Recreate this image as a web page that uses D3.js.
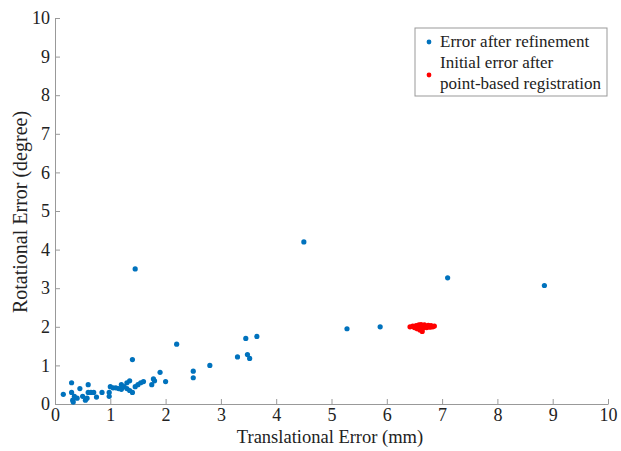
<!DOCTYPE html>
<html>
<head>
<meta charset="utf-8">
<script src="https://cdn.jsdelivr.net/npm/d3@7"></script>
<style>
  body { margin: 0; background: #fff; }
</style>
</head>
<body>
<div id="chart"></div>
<script>
// Error after refinement (translational mm, rotational degree)
var refinedX = [0.15, 0.3, 0.3, 0.32, 0.33, 0.35, 0.45, 0.4, 0.5, 0.55, 0.6, 0.6, 0.65, 0.58, 0.7, 0.75, 0.85,
  0.98, 0.98, 1.0, 1.05, 1.1, 1.15, 1.2, 1.2, 1.25, 1.3, 1.3, 1.35, 1.35, 1.4, 1.4, 1.45, 1.5, 1.55, 1.6,
  1.75, 1.78, 1.8, 1.9, 2.0, 1.45, 2.2, 2.5, 2.5, 2.8, 3.3, 3.45, 3.48, 3.52, 3.65, 4.5, 5.28, 5.88, 7.1, 8.85];
var refinedY = [0.25, 0.55, 0.3, 0.1, 0.05, 0.2, 0.4, 0.15, 0.2, 0.1, 0.3, 0.5, 0.3, 0.15, 0.3, 0.18, 0.3,
  0.2, 0.3, 0.45, 0.42, 0.42, 0.4, 0.38, 0.5, 0.45, 0.55, 0.4, 0.6, 0.35, 0.3, 1.15, 0.45, 0.5, 0.55, 0.58,
  0.5, 0.65, 0.6, 0.82, 0.58, 3.5, 1.55, 0.85, 0.68, 1.0, 1.22, 1.7, 1.28, 1.18, 1.75, 4.2, 1.95, 2.0, 3.27, 3.07];

// Initial error after point-based registration
var initialX = [6.42, 6.47, 6.5, 6.53, 6.55, 6.58, 6.6, 6.6, 6.62, 6.64, 6.65, 6.66, 6.68, 6.7, 6.72, 6.75, 6.78, 6.8, 6.83, 6.86];
var initialY = [2.0, 2.02, 1.98, 2.03, 1.95, 2.05, 2.0, 1.92, 2.06, 1.88, 2.0, 1.97, 2.05, 2.02, 1.98, 2.04, 1.99, 2.03, 2.0, 2.02];

var xTicks = [0, 1, 2, 3, 4, 5, 6, 7, 8, 9, 10];
var yTicks = [0, 1, 2, 3, 4, 5, 6, 7, 8, 9, 10];
var legendLabels = ["Error after refinement", "Initial error after", "point-based registration"];

var serif = "'Liberation Serif', 'Times New Roman', serif";
var width = 621, height = 451;
var margin = { left: 55, right: 13, top: 18, bottom: 47 };

var svg = d3.select("#chart").append("svg")
  .attr("width", width)
  .attr("height", height)
  .attr("font-family", serif);

var x = d3.scaleLinear().domain([0, 10]).range([margin.left, width - margin.right]);
var y = d3.scaleLinear().domain([0, 10]).range([height - margin.bottom, margin.top]);

// axes (ticks pointing inward)
var xAxis = svg.append("g")
  .attr("transform", "translate(0," + (height - margin.bottom) + ")")
  .call(d3.axisBottom(x).tickValues(xTicks).tickSizeInner(-5).tickSizeOuter(0).tickPadding(4));
var yAxis = svg.append("g")
  .attr("transform", "translate(" + margin.left + ",0)")
  .call(d3.axisLeft(y).tickValues(yTicks).tickSizeInner(-5).tickSizeOuter(0).tickPadding(5));

[xAxis, yAxis].forEach(function(ax) {
  ax.attr("font-family", serif).attr("font-size", 18);
  ax.selectAll("path, line").attr("stroke", "#999");
  ax.selectAll("text").attr("fill", "#222");
});

// points
svg.append("g").selectAll("circle")
  .data(refinedX)
  .enter()
  .append("circle")
  .attr("cx", function(d) { return x(d); })
  .attr("cy", function(d, i) { return y(refinedY[i]); })
  .attr("r", 2.6)
  .attr("fill", "#0072BD");

svg.append("g").selectAll("circle")
  .data(initialX)
  .enter()
  .append("circle")
  .attr("cx", function(d) { return x(d); })
  .attr("cy", function(d, i) { return y(initialY[i]); })
  .attr("r", 2.6)
  .attr("fill", "#FF0000");

// axis titles
svg.append("text")
  .attr("x", 330)
  .attr("y", 443)
  .attr("text-anchor", "middle")
  .attr("font-size", 18.5)
  .attr("fill", "#222")
  .text("Translational Error (mm)");

svg.append("text")
  .attr("transform", "translate(27,212) rotate(-90)")
  .attr("text-anchor", "middle")
  .attr("font-size", 20)
  .attr("fill", "#222")
  .text("Rotational Error (degree)");

// legend
var legend = svg.append("g").attr("transform", "translate(415,28)");
legend.append("rect")
  .attr("width", 192)
  .attr("height", 68)
  .attr("fill", "#fff")
  .attr("stroke", "#999");
legend.append("circle").attr("cx", 14).attr("cy", 14).attr("r", 2.4).attr("fill", "#0072BD");
legend.append("circle").attr("cx", 14).attr("cy", 47).attr("r", 2.4).attr("fill", "#FF0000");
legend.selectAll("text.lbl")
  .data(legendLabels)
  .enter()
  .append("text")
  .attr("class", "lbl")
  .attr("x", 25)
  .attr("y", function(d, i) { return 19 + i * 21; })
  .attr("font-size", 17)
  .attr("fill", "#222")
  .text(function(d) { return d; });
</script>
</body>
</html>
